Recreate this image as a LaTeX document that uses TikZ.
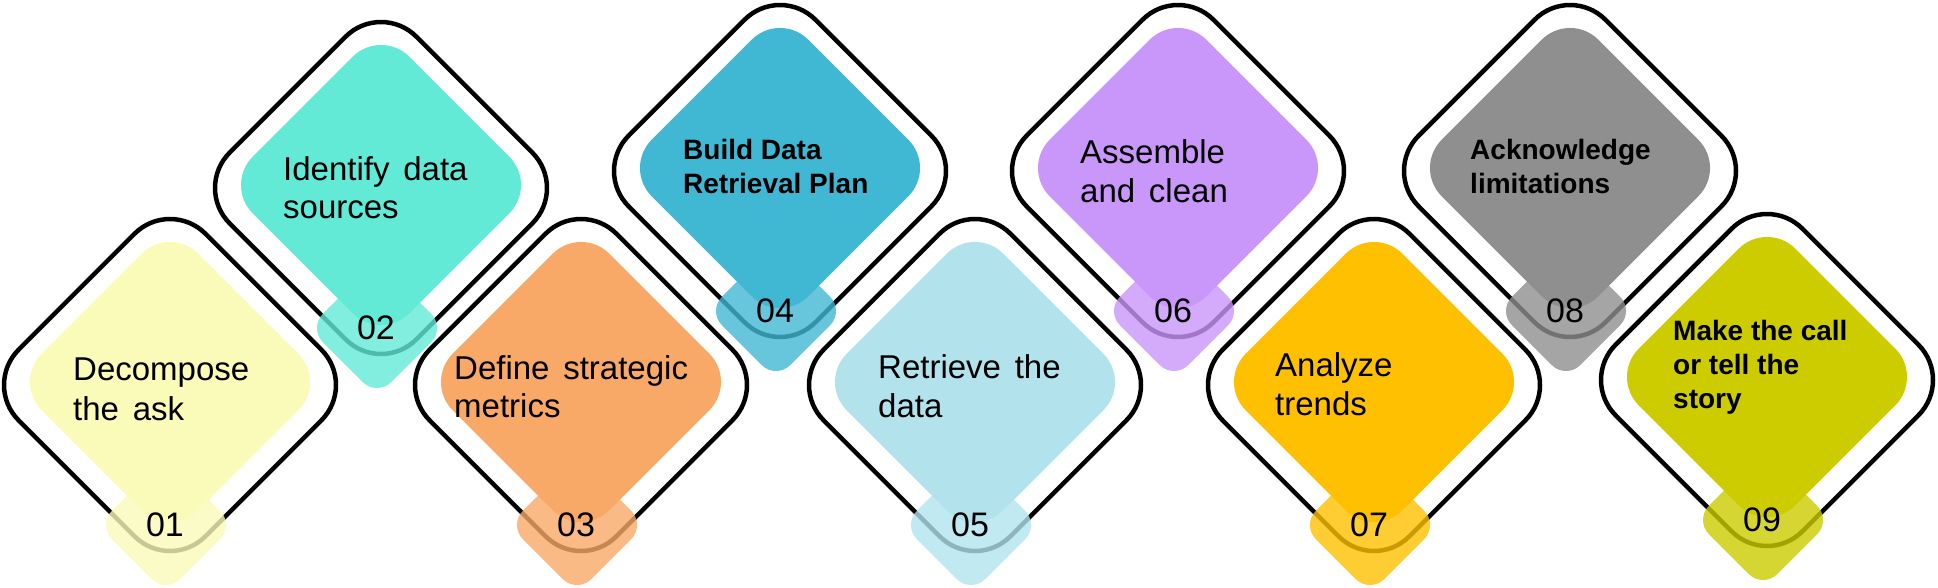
\documentclass[tikz,border=0pt]{standalone}
\usepackage{fontspec}
\setmainfont{Liberation Sans}
\newfontfamily\regf[WordSpace=1.5]{Liberation Sans}
\definecolor{c1}{HTML}{FAFAB9}
\definecolor{c2}{HTML}{62EAD7}
\definecolor{c3}{HTML}{F8A967}
\definecolor{c4}{HTML}{41B8D3}
\definecolor{c5}{HTML}{B2E3ED}
\definecolor{c6}{HTML}{C996F9}
\definecolor{c7}{HTML}{FEC000}
\definecolor{c8}{HTML}{8F8F8F}
\definecolor{c9}{HTML}{CCCC00}
\tikzset{
  outl/.style={draw=black, line width=4.5pt, rounded corners=50pt},
  innerd/.style={rounded corners=40pt},
  smalld/.style={rounded corners=20pt, fill opacity=0.8},
  txt/.style={anchor=base west, inner sep=0pt, font=\regf\fontsize{33}{38}\selectfont},
  btxt/.style={anchor=base west, inner sep=0pt, font=\bfseries\fontsize{28}{34}\selectfont},
  num/.style={inner sep=0pt, font=\fontsize{34}{38}\selectfont}
}
\newcommand\rdiam[4]{%
  \path[#1] ({#2-#4/2},{#3-#4/2}) -- ({#2},{#3-#4}) -- ({#2+#4},{#3}) -- ({#2},{#3+#4}) -- ({#2-#4},{#3}) -- cycle;}
\newcommand\stepunit[4]{%
  \rdiam{outl}{#1}{#2}{186.7}
  \rdiam{innerd, fill=#3}{#1}{#2-3}{156.6}
  \rdiam{smalld, fill=#3}{#1-4}{#2+140}{68.3}
  \node[num] (n#4) at ({#1-5},{#2+140}) {#4};}
\begin{document}
\begin{tikzpicture}[x=1pt,y=-1pt]
\useasboundingbox (0,0) rectangle (1938,587);
\stepunit{170}{385}{c1}{01}
\stepunit{381}{188}{c2}{02}
\stepunit{581}{385}{c3}{03}
\stepunit{780}{171}{c4}{04}
\stepunit{975}{385}{c5}{05}
\stepunit{1178}{171}{c6}{06}
\stepunit{1374}{385}{c7}{07}
\stepunit{1570}{171}{c8}{08}
\stepunit{1767}{380}{c9}{09}
\node[txt] (t1a) at (73,380) {Decompose};
\node[txt] (t1b) at (73,420) {the ask};
\node[txt] (t2a) at (283,180) {Identify data};
\node[txt] (t2b) at (283,218) {sources};
\node[txt] (t3a) at (454,379) {Define strategic};
\node[txt] (t3b) at (454,417) {metrics};
\node[btxt] (t4a) at (683,159) {Build Data};
\node[btxt] (t4b) at (683,193) {Retrieval Plan};
\node[txt] (t5a) at (878,378) {Retrieve the};
\node[txt] (t5b) at (878,417) {data};
\node[txt] (t6a) at (1080,163) {Assemble};
\node[txt] (t6b) at (1080,202) {and clean};
\node[txt] (t7a) at (1275,376) {Analyze};
\node[txt] (t7b) at (1275,415) {trends};
\node[btxt] (t8a) at (1470,159) {Acknowledge};
\node[btxt] (t8b) at (1470,193) {limitations};
\node[btxt] (t9a) at (1673,340) {Make the call};
\node[btxt] (t9b) at (1673,374) {or tell the};
\node[btxt] (t9c) at (1673,408) {story};
\end{tikzpicture}
\end{document}
